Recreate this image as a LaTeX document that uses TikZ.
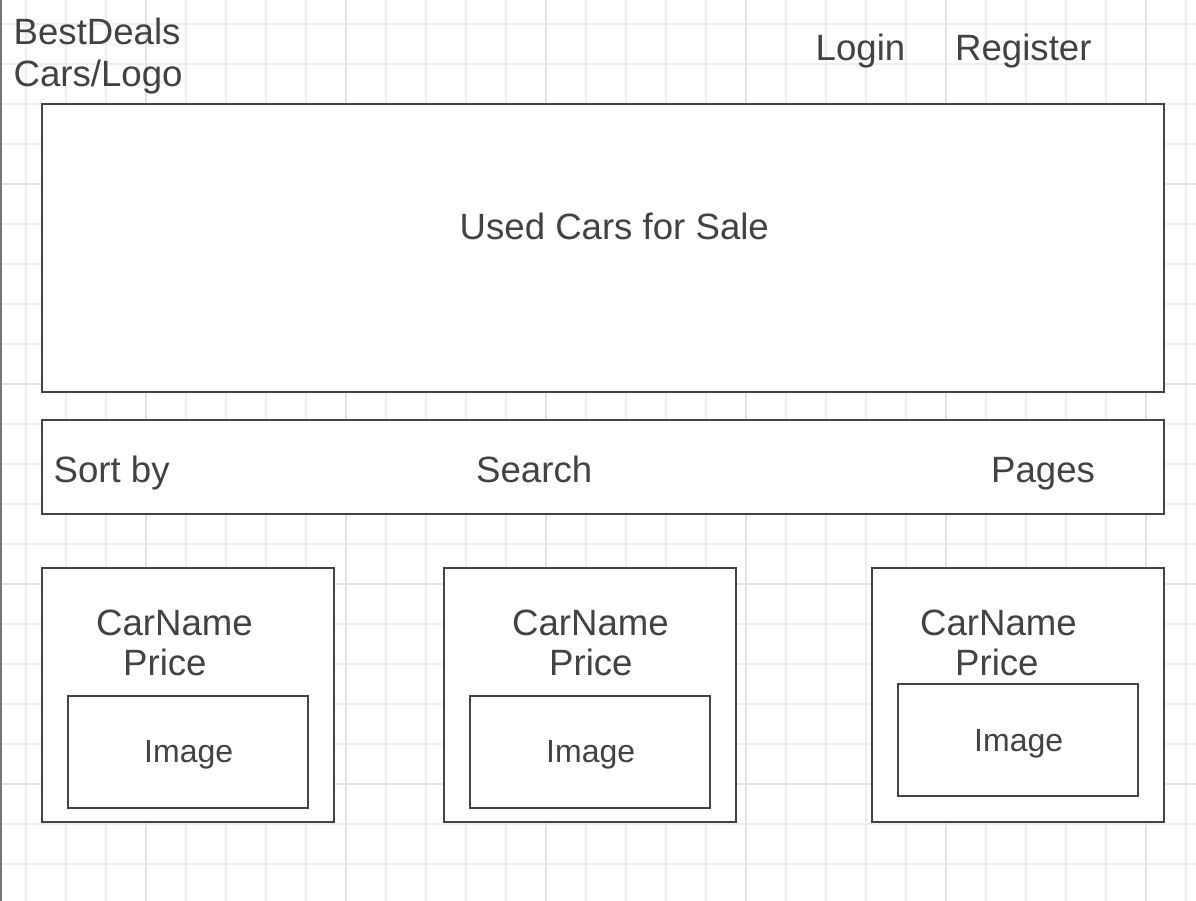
\documentclass[tikz,border=0pt]{standalone}
\usepackage{fontspec}
\setmainfont{Liberation Sans}
\definecolor{gridminor}{HTML}{EEEEEE}
\definecolor{gridmajor}{HTML}{E2E2E2}
\definecolor{edge}{HTML}{444444}
\definecolor{txt}{HTML}{424242}
\definecolor{border}{HTML}{777777}
\begin{document}
\begin{tikzpicture}[x=1pt,y=-1pt,
  box/.style={draw=edge,line width=2pt,fill=white},
  big/.style={text=txt,inner sep=0pt,font=\fontsize{36.6}{42}\selectfont,anchor=base west},
  small/.style={text=txt,inner sep=0pt,font=\fontsize{32}{38}\selectfont,anchor=base west}]
\useasboundingbox (0,0) rectangle (1196,901);
\fill[white] (0,0) rectangle (1196,901);
% grid
\foreach \x in {26,66,...,1186} \draw[gridminor,line width=1.2pt] (\x,0) -- (\x,901);
\foreach \y in {24,64,...,884} \draw[gridminor,line width=1.2pt] (0,\y) -- (1196,\y);
\foreach \x in {146,346,...,1146} \draw[gridmajor,line width=1.2pt] (\x,0) -- (\x,901);
\foreach \y in {184,384,584,784} \draw[gridmajor,line width=1.2pt] (0,\y) -- (1196,\y);
\draw[border,line width=1.6pt] (0.8,0) -- (0.8,901);
% header texts
\node[big] (logo1) at (13.5,45) {BestDeals};
\node[big] (logo2) at (13.5,87) {Cars/Logo};
\node[big] (login) at (815.5,61) {Login};
\node[big] (register) at (955,61) {Register};
% hero
\draw[box] (42,104) rectangle (1164,392);
\node[big] (hero) at (459.5,240) {Used Cars for Sale};
% toolbar
\draw[box] (42,420) rectangle (1164,514);
\node[big] (sortby) at (53.5,482) {Sort by};
\node[big] (search) at (476,482) {Search};
\node[big] (pages) at (991,482) {Pages};
% card 1
\draw[box] (42,568) rectangle (334,822);
\node[big] (name1) at (96,635) {CarName};
\node[big] (price1) at (123,675) {Price};
\draw[box] (68,696) rectangle (308,808);
\node[small] (img1) at (144,762) {Image};
% card 2
\draw[box] (444,568) rectangle (736,822);
\node[big] (name2) at (512,635) {CarName};
\node[big] (price2) at (549,675) {Price};
\draw[box] (470,696) rectangle (710,808);
\node[small] (img2) at (546,762) {Image};
% card 3
\draw[box] (872,568) rectangle (1164,822);
\node[big] (name3) at (920,635) {CarName};
\node[big] (price3) at (955,675) {Price};
\draw[box] (898,684) rectangle (1138,796);
\node[small] (img3) at (974,751) {Image};
\end{tikzpicture}
\end{document}
